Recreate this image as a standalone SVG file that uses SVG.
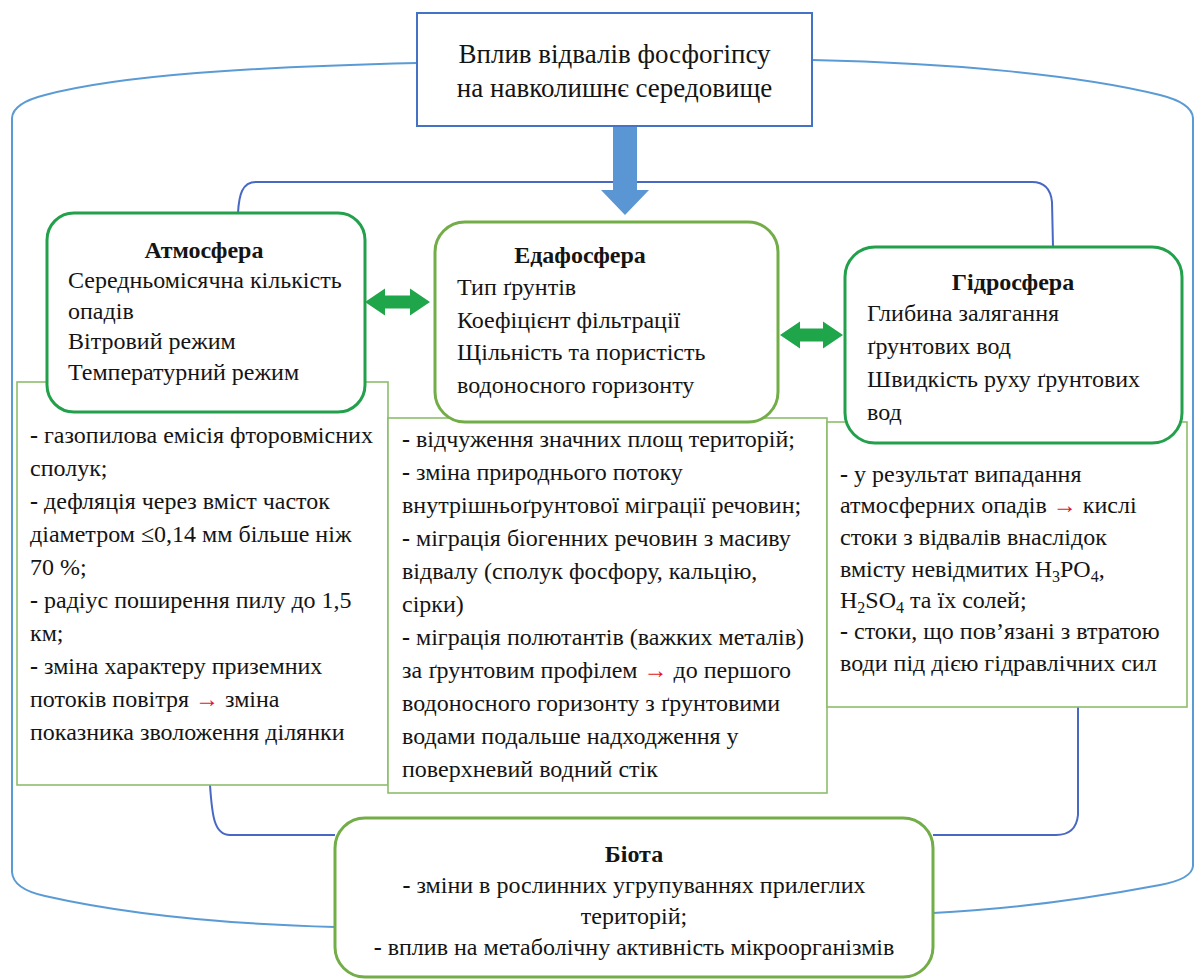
<svg xmlns="http://www.w3.org/2000/svg" width="1200" height="980" viewBox="0 0 1200 980" font-family="Liberation Serif, Times New Roman, serif" font-size="24">
<style>
text{fill:#141414}
.t{font-size:27px}
.b{font-weight:bold}
.c{text-anchor:middle}
.r{fill:#e3161b}
.sub{font-size:16px}
.box1{fill:#fff;stroke:#22a04b;stroke-width:3}
.box2{fill:#fff;stroke:#72ad47;stroke-width:3}
.rect{fill:#fff;stroke:#8ebd6c;stroke-width:1.6}
.outer{fill:none;stroke:#5b9bd5;stroke-width:2}
.inner{fill:none;stroke:#4868c4;stroke-width:2}
.garrow{fill:#1fa64a}
</style>
<rect width="1200" height="980" fill="#fff"/>

<g id="connectors">
<path class="outer" d="M417,63 C250,67 120,75 45,95 Q13,103 12,118 L12,872 Q13,889 45,896 C120,913 220,924 335,927"/>
<path class="outer" d="M812,60 C950,63 1080,75 1160,95 Q1192,103 1193,118 L1193,866 Q1192,879 1160,885 C1080,900 1000,910 933,913"/>
<path class="inner" d="M238,213 C239,195 242,182 256,182 L1032,182 Q1050,182 1052,202 L1053,247"/>
<path class="inner" d="M210,785 C212,815 214,835 230,835 L335,835"/>
<path class="inner" d="M1078,707 L1078,815 Q1076,835 1056,835 L933,835"/>
<polygon class="garrow" points="365,302 385,288.5 385,295.5 410,295.5 410,288.5 430,302 410,315.5 410,308.5 385,308.5 385,315.5"/>
<polygon class="garrow" points="780,335 800,321.5 800,328.5 823,328.5 823,321.5 843,335 823,348.5 823,341.5 800,341.5 800,348.5"/>
</g>

<g id="left-details">
<rect class="rect" x="17" y="382" width="371" height="403"/>
<text x="30" y="443"><tspan class="b">-</tspan> газопилова емісія фторовмісних</text>
<text x="30" y="476">сполук;</text>
<text x="30" y="509"><tspan class="b">-</tspan> дефляція через вміст часток</text>
<text x="30" y="542">діаметром ≤0,14 мм більше ніж</text>
<text x="30" y="575">70 %;</text>
<text x="30" y="608"><tspan class="b">-</tspan> радіус поширення пилу до 1,5</text>
<text x="30" y="641">км;</text>
<text x="30" y="674"><tspan class="b">-</tspan> зміна характеру приземних</text>
<text x="30" y="707">потоків повітря <tspan class="r">→</tspan> зміна</text>
<text x="30" y="740">показника зволоження ділянки</text>
</g>

<g id="middle-details">
<rect class="rect" x="388" y="418" width="439" height="375"/>
<text x="402" y="447"><tspan class="b">-</tspan> відчуження значних площ територій;</text>
<text x="402" y="480"><tspan class="b">-</tspan> зміна природнього потоку</text>
<text x="402" y="513">внутрішньоґрунтової міграції речовин;</text>
<text x="402" y="546"><tspan class="b">-</tspan> міграція біогенних речовин з масиву</text>
<text x="402" y="579">відвалу (сполук фосфору, кальцію,</text>
<text x="402" y="612">сірки)</text>
<text x="402" y="645"><tspan class="b">-</tspan> міграція полютантів (важких металів)</text>
<text x="402" y="678">за ґрунтовим профілем <tspan class="r">→</tspan> до першого</text>
<text x="402" y="711">водоносного горизонту з ґрунтовими</text>
<text x="402" y="744">водами подальше надходження у</text>
<text x="402" y="777">поверхневий водний стік</text>
</g>

<g id="right-details">
<rect class="rect" x="827" y="422" width="360" height="285"/>
<text x="840" y="482"><tspan class="b">-</tspan> у результат випадання</text>
<text x="840" y="513">атмосферних опадів <tspan class="r">→</tspan> кислі</text>
<text x="840" y="545">стоки з відвалів внаслідок</text>
<text x="840" y="577">вмісту невідмитих H<tspan class="sub" dy="5">3</tspan><tspan dy="-5">PO</tspan><tspan class="sub" dy="5">4</tspan><tspan dy="-5">,</tspan></text>
<text x="840" y="608">H<tspan class="sub" dy="5">2</tspan><tspan dy="-5">SO</tspan><tspan class="sub" dy="5">4</tspan><tspan dy="-5"> та їх солей;</tspan></text>
<text x="840" y="639"><tspan class="b">-</tspan> стоки, що пов’язані з втратою</text>
<text x="840" y="671">води під дією гідравлічних сил</text>
</g>

<g id="title">
<rect x="417" y="13" width="395" height="113" fill="#fff" stroke="#4472c4" stroke-width="2"/>
<text class="t c" x="614.5" y="63">Вплив відвалів фосфогіпсу</text>
<text class="t c" x="614.5" y="97">на навколишнє середовище</text>
</g>

<g id="main-arrow">
<polygon points="613,127 637,127 637,190 649,190 625,215 601,190 613,190" fill="#5a96d4"/>
</g>

<g id="atmosphere">
<rect class="box1" x="47" y="213" width="318" height="199" rx="27"/>
<text class="b c" x="204" y="258">Атмосфера</text>
<text x="68" y="288">Середньомісячна кількість</text>
<text x="68" y="319">опадів</text>
<text x="68" y="349">Вітровий режим</text>
<text x="68" y="380">Температурний режим</text>
</g>

<g id="edaphosphere">
<rect class="box2" x="435" y="222" width="343" height="200" rx="30"/>
<text class="b c" x="580" y="263">Едафосфера</text>
<text x="457" y="295">Тип ґрунтів</text>
<text x="457" y="328">Коефіцієнт фільтрації</text>
<text x="457" y="360">Щільність та пористість</text>
<text x="457" y="393">водоносного горизонту</text>
</g>

<g id="hydrosphere">
<rect class="box1" x="845" y="247" width="337" height="196" rx="30"/>
<text class="b c" x="1013" y="290">Гідросфера</text>
<text x="867" y="321">Глибина залягання</text>
<text x="867" y="354">ґрунтових вод</text>
<text x="867" y="387">Швидкість руху ґрунтових</text>
<text x="867" y="420">вод</text>
</g>

<g id="biota">
<rect class="box2" x="335" y="818" width="598" height="159" rx="30"/>
<text class="b c" x="634" y="862">Біота</text>
<text class="c" x="634" y="893"><tspan class="b">-</tspan> зміни в рослинних угрупуваннях прилеглих</text>
<text class="c" x="634" y="924">територій;</text>
<text class="c" x="634" y="955"><tspan class="b">-</tspan> вплив на метаболічну активність мікроорганізмів</text>
</g>
</svg>
